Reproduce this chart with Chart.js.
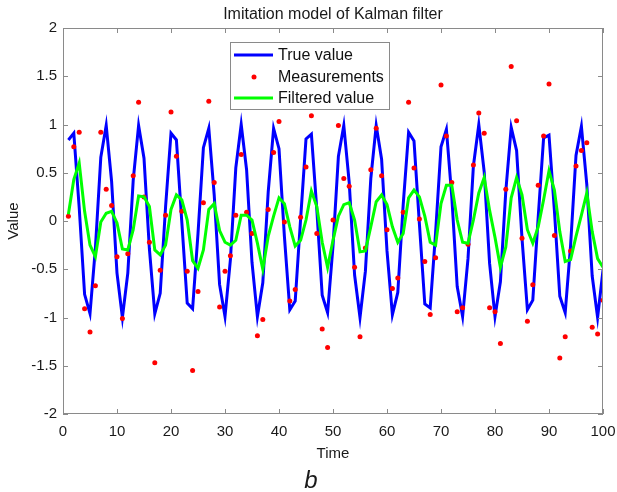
<!DOCTYPE html>
<html>
<head>
<meta charset="utf-8">
<script src="https://cdn.jsdelivr.net/npm/chart.js@4/dist/chart.umd.min.js"></script>
<style>
  html, body { margin: 0; padding: 0; background: #fff; }
  #wrap { width: 617px; height: 492px; }
</style>
</head>
<body>
<div id="wrap"><canvas id="kalman" width="617" height="492"></canvas></div>
<script>
// Imitation model of Kalman filter (b)
// true value, noisy measurements and filtered value over 100 time steps

var timeSteps = [1, 2, 3, 4, 5, 6, 7, 8, 9, 10, 11, 12, 13, 14, 15, 16, 17, 18, 19, 20,
  21, 22, 23, 24, 25, 26, 27, 28, 29, 30, 31, 32, 33, 34, 35, 36, 37, 38, 39, 40,
  41, 42, 43, 44, 45, 46, 47, 48, 49, 50, 51, 52, 53, 54, 55, 56, 57, 58, 59, 60,
  61, 62, 63, 64, 65, 66, 67, 68, 69, 70, 71, 72, 73, 74, 75, 76, 77, 78, 79, 80,
  81, 82, 83, 84, 85, 86, 87, 88, 89, 90, 91, 92, 93, 94, 95, 96, 97, 98, 99, 100];

var trueValue = [0.84, 0.91, 0.14, -0.76, -0.96, -0.28, 0.66, 0.99, 0.41, -0.54,
  -1.00, -0.54, 0.42, 0.99, 0.65, -0.29, -0.96, -0.75, 0.15, 0.91,
  0.84, -0.01, -0.85, -0.91, -0.13, 0.76, 0.96, 0.27, -0.66, -0.99,
  -0.40, 0.55, 1.00, 0.53, -0.43, -0.99, -0.64, 0.30, 0.96, 0.75,
  -0.16, -0.92, -0.83, 0.02, 0.85, 0.90, 0.12, -0.77, -0.95, -0.26,
  0.67, 0.99, 0.40, -0.56, -1.00, -0.52, 0.44, 0.99, 0.64, -0.31,
  -0.97, -0.74, 0.17, 0.92, 0.83, -0.03, -0.86, -0.90, -0.12, 0.77,
  0.95, 0.25, -0.68, -0.99, -0.39, 0.57, 1.00, 0.51, -0.44, -0.99,
  -0.63, 0.31, 0.97, 0.73, -0.18, -0.92, -0.82, 0.04, 0.86, 0.89,
  0.11, -0.78, -0.95, -0.25, 0.68, 0.98, 0.38, -0.57, -1.00, -0.51];

var measurements = [0.05, 0.77, 0.92, -0.91, -1.15, -0.67, 0.92, 0.33, 0.16, -0.37,
  -1.01, -0.34, 0.47, 1.23, 0.25, -0.22, -1.47, -0.51, 0.06, 1.13,
  0.67, 0.10, -0.52, -1.55, -0.73, 0.19, 1.24, 0.40, -0.89, -0.52,
  -0.36, 0.06, 0.69, 0.09, -0.13, -1.19, -1.02, 0.12, 0.71, 1.03,
  -0.01, -0.83, -0.71, 0.04, 0.56, 1.09, -0.13, -1.12, -1.31, 0.01,
  0.99, 0.44, 0.36, -0.48, -1.20, -0.28, 0.53, 0.96, 0.47, -0.09,
  -0.70, -0.59, 0.09, 1.23, 0.55, 0.02, -0.42, -0.97, -0.38, 1.41,
  0.88, 0.40, -0.94, -0.90, -0.24, 0.58, 1.12, 0.91, -0.90, -0.94,
  -1.27, 0.33, 1.60, 1.04, -0.18, -1.04, -0.66, 0.37, 0.88, 1.42,
  -0.15, -1.42, -1.20, -0.31, 0.57, 0.73, 0.81, -1.10, -1.17, -0.82];

var filtered = [0.07, 0.43, 0.60, 0.10, -0.25, -0.37, -0.01, 0.08, 0.10, -0.02,
  -0.29, -0.30, -0.09, 0.26, 0.25, 0.15, -0.30, -0.35, -0.25, 0.12,
  0.27, 0.22, 0.01, -0.41, -0.49, -0.30, 0.12, 0.18, -0.10, -0.22,
  -0.25, -0.20, 0.06, 0.06, 0.01, -0.23, -0.50, -0.16, 0.05, 0.24,
  0.18, -0.06, -0.26, -0.20, 0.01, 0.31, 0.15, -0.22, -0.48, -0.20,
  0.05, 0.17, 0.19, 0.01, -0.32, -0.31, -0.06, 0.20, 0.27, 0.17,
  -0.06, -0.22, -0.13, 0.24, 0.32, 0.25, 0.05, -0.22, -0.25, 0.18,
  0.37, 0.37, 0.01, -0.22, -0.23, 0.01, 0.29, 0.45, 0.11, -0.17,
  -0.48, -0.27, 0.24, 0.45, 0.27, -0.09, -0.23, -0.06, 0.22, 0.52,
  0.32, -0.11, -0.42, -0.40, -0.16, 0.06, 0.29, -0.11, -0.39, -0.48];

var xTicks = [0, 10, 20, 30, 40, 50, 60, 70, 80, 90, 100];
var yTicks = [-2, -1.5, -1, -0.5, 0, 0.5, 1, 1.5, 2];

var FONT = "'Liberation Sans', Arial, sans-serif";
var AXIS_GREY = '#8a8a8a';
var TEXT = '#1a1a1a';

function toPoints(ys) {
  return timeSteps.map(function (t, i) { return { x: t, y: ys[i] }; });
}

// matlab style box with inward ticks on all four sides, plus title and panel letter
var boxPlugin = {
  id: 'matlabBox',
  afterDraw: function (chart) {
    var ctx = chart.ctx, a = chart.chartArea;
    var xs = chart.scales.x, ys = chart.scales.y;
    ctx.save();
    ctx.strokeStyle = AXIS_GREY;
    ctx.lineWidth = 1;
    ctx.strokeRect(a.left + 0.5, a.top + 0.5, a.right - a.left - 1, a.bottom - a.top - 1);
    ctx.beginPath();
    xTicks.forEach(function (v) {
      var px = Math.round(xs.getPixelForValue(v)) + 0.5;
      ctx.moveTo(px, a.bottom); ctx.lineTo(px, a.bottom - 5);
      ctx.moveTo(px, a.top); ctx.lineTo(px, a.top + 5);
    });
    yTicks.forEach(function (v) {
      var py = Math.round(ys.getPixelForValue(v)) + 0.5;
      ctx.moveTo(a.left, py); ctx.lineTo(a.left + 5, py);
      ctx.moveTo(a.right, py); ctx.lineTo(a.right - 5, py);
    });
    ctx.stroke();

    ctx.fillStyle = TEXT;
    ctx.textAlign = 'center';
    ctx.textBaseline = 'middle';
    ctx.font = '16px ' + FONT;
    ctx.fillText('Imitation model of Kalman filter', (a.left + a.right) / 2, 15);
    ctx.font = 'italic 24px ' + FONT;
    ctx.fillText('b', 311, 481);
    ctx.restore();
  }
};

// legend box inside the axes, like matlab's 'north' legend
var legendPlugin = {
  id: 'boxLegend',
  afterDraw: function (chart) {
    var ctx = chart.ctx;
    var bx = 230, by = 42, bw = 159, bh = 67;
    ctx.save();
    ctx.fillStyle = '#fff';
    ctx.fillRect(bx, by, bw, bh);
    ctx.strokeStyle = AXIS_GREY;
    ctx.lineWidth = 1;
    ctx.strokeRect(bx + 0.5, by + 0.5, bw, bh);
    ctx.font = '16px ' + FONT;
    ctx.textBaseline = 'middle';
    var rows = [55, 77, 98];
    chart.data.datasets.forEach(function (ds, i) {
      var y = rows[i];
      if (ds.showLine === false) {
        ctx.fillStyle = ds.pointBackgroundColor;
        ctx.beginPath();
        ctx.arc(254, y, 2.5, 0, Math.PI * 2);
        ctx.fill();
      } else {
        ctx.strokeStyle = ds.borderColor;
        ctx.lineWidth = ds.borderWidth;
        ctx.beginPath();
        ctx.moveTo(234, y); ctx.lineTo(273, y);
        ctx.stroke();
      }
      ctx.fillStyle = '#111';
      ctx.fillText(ds.label, 278, y + 1);
    });
    ctx.restore();
  }
};

new Chart(document.getElementById('kalman'), {
  type: 'line',
  data: {
    datasets: [{
      label: 'True value',
      data: toPoints(trueValue),
      borderColor: '#0000ff',
      backgroundColor: '#0000ff',
      borderWidth: 3,
      pointRadius: 0,
      tension: 0,
      order: 3
    }, {
      label: 'Measurements',
      data: toPoints(measurements),
      showLine: false,
      pointRadius: 2.5,
      pointBorderWidth: 0,
      pointBackgroundColor: '#ff0000',
      pointBorderColor: '#ff0000',
      order: 2
    }, {
      label: 'Filtered value',
      data: toPoints(filtered),
      borderColor: '#00ff00',
      backgroundColor: '#00ff00',
      borderWidth: 3,
      pointRadius: 0,
      tension: 0,
      order: 1
    }]
  },
  options: {
    responsive: false,
    animation: false,
    layout: { padding: { left: 0, right: 14, top: 28, bottom: 26 } },
    plugins: {
      legend: { display: false },
      tooltip: { enabled: false },
      title: { display: false }
    },
    scales: {
      x: {
        type: 'linear',
        min: 0,
        max: 100,
        afterFit: function (s) { s.height = 52; s.paddingLeft = 0; s.paddingRight = 0; },
        afterBuildTicks: function (s) { s.ticks = xTicks.map(function (v) { return { value: v }; }); },
        ticks: {
          color: TEXT,
          font: { family: FONT, size: 15 },
          padding: 9,
          maxRotation: 0,
          callback: function (v) { return String(v); }
        },
        grid: { display: false, drawTicks: false },
        border: { display: false },
        title: {
          display: true,
          text: 'Time',
          color: TEXT,
          font: { family: FONT, size: 15 },
          padding: { top: 0, bottom: 3 }
        }
      },
      y: {
        min: -2,
        max: 2,
        afterFit: function (s) { s.width = 63; s.paddingTop = 0; s.paddingBottom = 0; },
        afterBuildTicks: function (s) { s.ticks = yTicks.map(function (v) { return { value: v }; }); },
        ticks: {
          color: TEXT,
          font: { family: FONT, size: 15 },
          padding: 6,
          callback: function (v) { return String(v); }
        },
        grid: { display: false, drawTicks: false },
        border: { display: false },
        title: {
          display: true,
          text: 'Value',
          color: TEXT,
          font: { family: FONT, size: 15 },
          padding: { top: 5, bottom: 0 }
        }
      }
    }
  },
  plugins: [boxPlugin, legendPlugin]
});
</script>
</body>
</html>
